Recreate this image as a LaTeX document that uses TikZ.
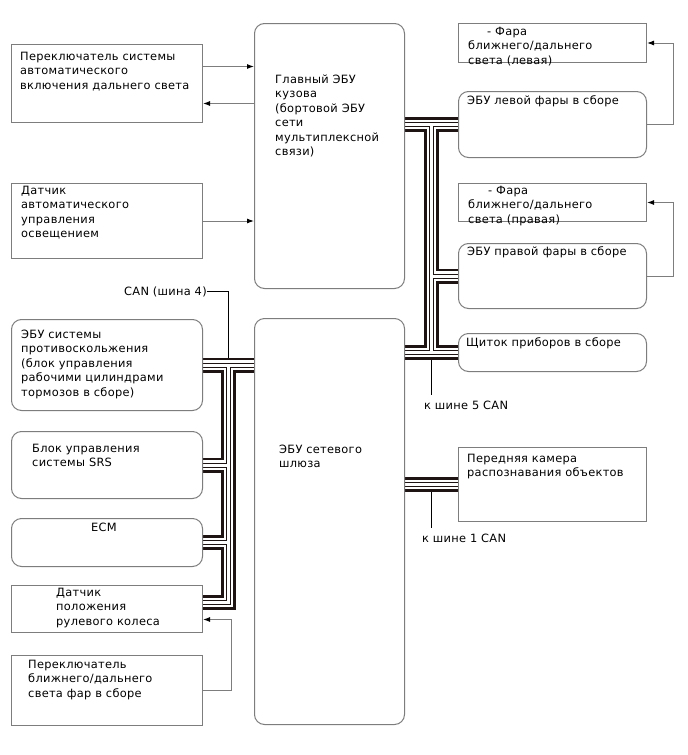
\documentclass[tikz,border=0pt]{standalone}
\usepackage{fontspec}
\setmainfont{DejaVu Sans}[LetterSpace=2.5]
\usetikzlibrary{arrows.meta,calc,backgrounds}
\definecolor{boxgray}{RGB}{125,125,125}
\definecolor{busblack}{RGB}{30,20,20}
\newcommand\lbfont{\fontsize{11.4pt}{14.5pt}\selectfont}
\begin{document}
\begin{tikzpicture}[x=1pt,y=-1pt,
  box/.style={draw=boxgray, line width=1pt, inner sep=0pt, anchor=north west},
  rbox/.style={box, rounded corners=10pt},
  lbl/.style={anchor=north west, align=left, inner sep=0pt, font=\lbfont},
  sig/.style={draw=boxgray, line width=1pt, -{Latex[length=7pt,width=5pt,color=black]}},
  canline/.style={draw=black, line width=1pt}]
\useasboundingbox (0,0) rectangle (688,755);

% left column boxes
\node[box,  minimum width=191pt, minimum height=78pt] (b1) at (11,44) {};
\node[box,  minimum width=191pt, minimum height=75pt] (b2) at (11,183) {};
\node[rbox, minimum width=191pt, minimum height=91pt] (b3) at (11,319) {};
\node[rbox, minimum width=191pt, minimum height=67pt] (b4) at (11,431) {};
\node[rbox, minimum width=191pt, minimum height=48pt] (b5) at (11,518) {};
\node[box,  minimum width=191pt, minimum height=47pt] (b6) at (11,585) {};
\node[box,  minimum width=191pt, minimum height=70pt] (b7) at (11,655) {};
% middle
\node[rbox, minimum width=150pt, minimum height=265pt] (m1) at (254,23) {};
\node[rbox, minimum width=150pt, minimum height=406pt] (m2) at (254,318) {};
% right
\node[box,  minimum width=188pt, minimum height=39pt] (r1) at (458,23) {};
\node[rbox, minimum width=188pt, minimum height=66pt] (r2) at (458,91) {};
\node[box,  minimum width=188pt, minimum height=38pt] (r3) at (458,183) {};
\node[rbox, minimum width=188pt, minimum height=65pt] (r4) at (458,243) {};
\node[rbox, minimum width=188pt, minimum height=38pt] (r5) at (458,333) {};
\node[box,  minimum width=188pt, minimum height=74pt] (r6) at (458,447) {};

% texts
\node[lbl] (t1) at (20,51.5) {Переключатель системы\\автоматического\\включения дальнего света};
\node[lbl] (t2) at (21,185.5) {Датчик\\автоматического\\управления\\освещением};
\node[lbl] (t3) at (21,329.5) {ЭБУ системы\\противоскольжения\\(блок управления\\рабочими цилиндрами\\тормозов в сборе)};
\node[lbl] (t4) at (32,443.5) {Блок управления\\системы SRS};
\node[lbl, anchor=base] (t5) at (104,531) {ECM};
\node[lbl] (t6) at (56,587.5) {Датчик\\положения\\рулевого колеса};
\node[lbl] (t7) at (28,659.5) {Переключатель\\ближнего/дальнего\\света фар в сборе};
\node[lbl] (tm1) at (275,74.5) {Главный ЭБУ\\кузова\\(бортовой ЭБУ\\сети\\мультиплексной\\связи)};
\node[lbl] (tm2) at (279,444.5) {ЭБУ сетевого\\шлюза};
\node[lbl] (tr1) at (468,26.5) {\hspace*{19pt}- Фара\\ближнего/дальнего\\света (левая)};
\node[lbl] (tr2) at (467,95.5) {ЭБУ левой фары в сборе};
\node[lbl] (tr3) at (468,185.5) {\hspace*{20pt}- Фара\\ближнего/дальнего\\света (правая)};
\node[lbl] (tr4) at (467,246.5) {ЭБУ правой фары в сборе};
\node[lbl] (tr5) at (466,337.5) {Щиток приборов в сборе};
\node[lbl] (tr6) at (467,453.5) {Передняя камера\\распознавания объектов};
\node[lbl] (can4) at (124,286.5) {CAN (шина 4)};
\node[lbl] (can5) at (424,400.5) {к шине 5 CAN};
\node[lbl] (can1) at (422,533.5) {к шине 1 CAN};

% signal arrows
\draw[sig] ([yshift=17pt]b1.east) -- ([yshift=17pt]b1.east -| m1.west);
\draw[sig] ([yshift=-20pt]b1.east -| m1.west) -- ([yshift=-20pt]b1.east);
\draw[sig] (b2.east) -- (b2.east -| m1.west);
\draw[sig] (r2.east) -- ++(26,0) |- (r1.east);
\draw[sig] (r4.east) -- ++(26,0) |- (r3.east);
\draw[sig] (b7.east) -- ++(28,0) |- ([yshift=-10.5pt]b6.east);

% bus coordinates
\coordinate (lb) at ($(b3.east)!0.5!(b3.east -| m2.west)$);
\coordinate (ls) at ([yshift=6.5pt]b6.east);
\coordinate (rt) at (m1.east |- r2.west);
\coordinate (rb) at ($(rt)!0.5!(r2.west)$);

\begin{scope}[on background layer]
  \fill[white] (0,0) rectangle (688,755);
  \draw[canline] (can4.east) -| (lb);
  \draw[canline] (rb |- r5.west) -- ++(0,42);
  \draw[canline] (rb |- r6.west) -- ++(0,43);
  \foreach \w/\c in {15/busblack,9.5/white,5/busblack,3/white}{
    \draw[line width=\w pt, draw=\c, line join=miter, line cap=butt]
      (b3.east) -- (b3.east -| m2.west)
      (lb) -- (lb |- ls) -- (ls)
      (lb |- b4.east) -- (b4.east)
      (lb |- b5.east) -- (b5.east)
      (rt) -- (r2.west)
      (rb) -- (rb |- r5.west)
      (r5.west -| m2.east) -- (r5.west)
      (rb |- r4.west) -- (r4.west)
      (r6.west -| m2.east) -- (r6.west);
  }
\end{scope}
\end{tikzpicture}
\end{document}
